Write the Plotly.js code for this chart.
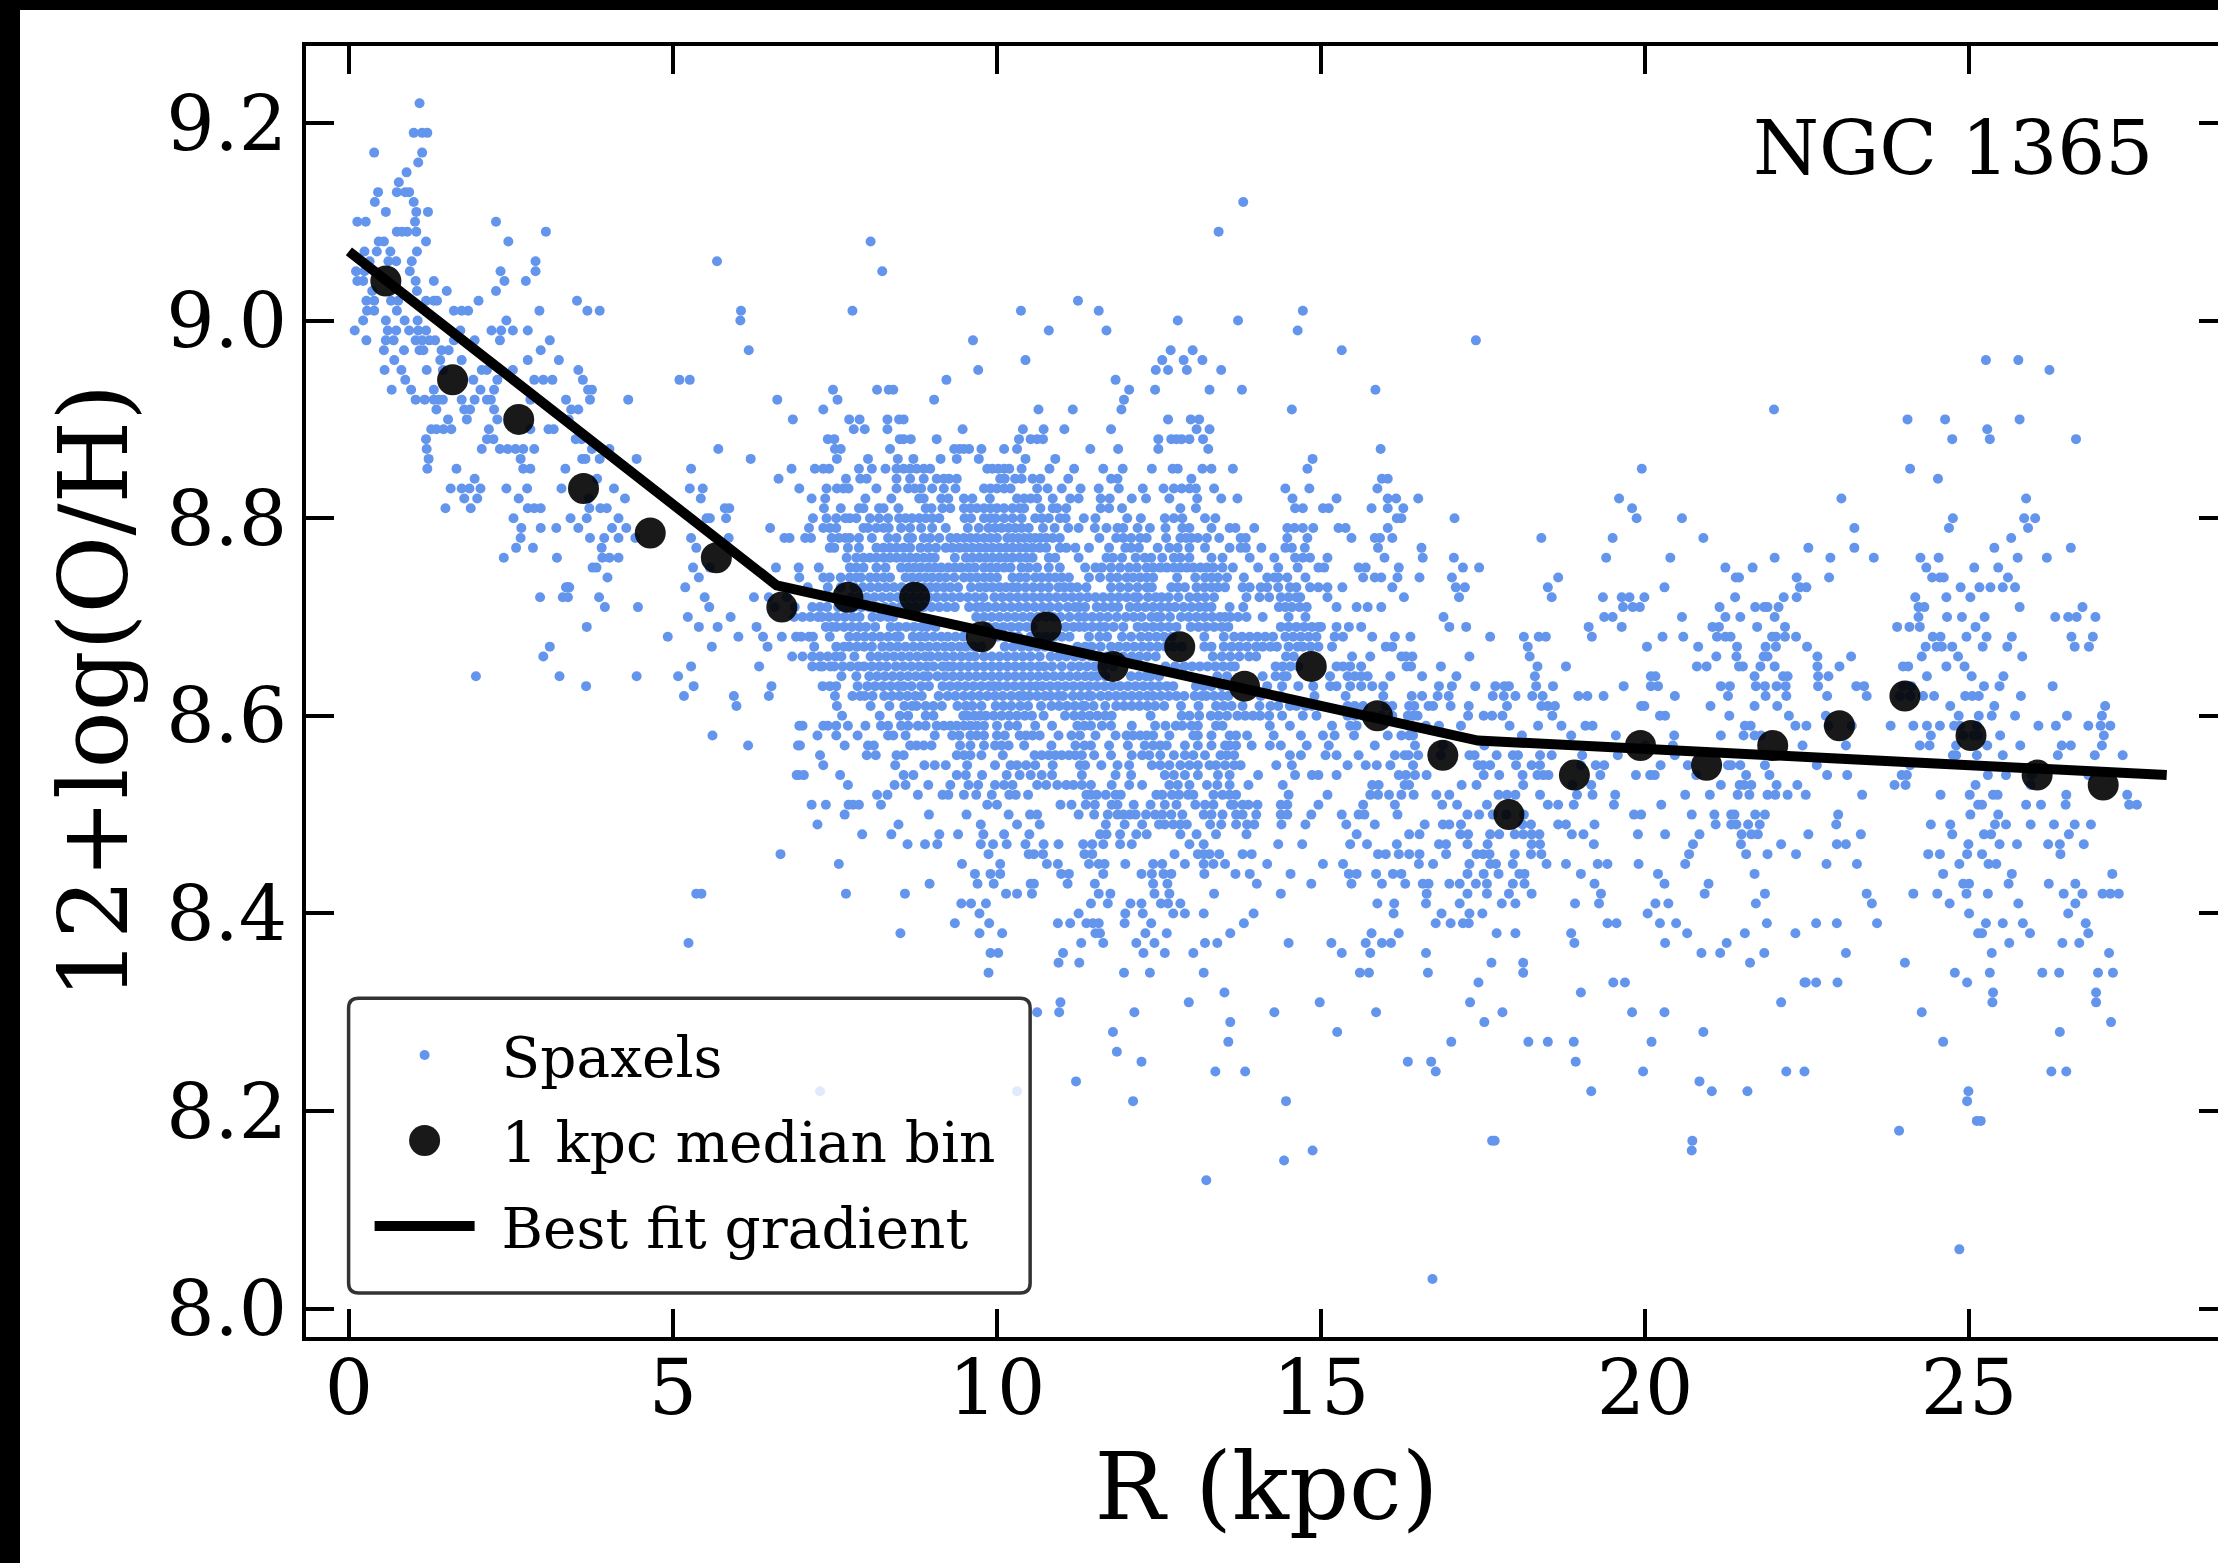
<!DOCTYPE html>
<html><head><meta charset="utf-8">
<script src="https://cdn.plot.ly/plotly-3.0.1.min.js"></script>
<style>
html,body{margin:0;padding:0;background:#fff;overflow:hidden;width:2218px;height:1563px}
#plot{position:absolute;left:0;top:0;width:2340px;height:1563px}
#bt{position:absolute;left:0;top:0;width:2218px;height:10px;background:#000}
#bl{position:absolute;left:0;top:0;width:20px;height:1563px;background:#000}
</style></head><body>
<div id="plot"></div><div id="bt"></div><div id="bl"></div>
<script>
// Each row: first number is 12+log(O/H), the rest are R (kpc) of the spaxels on that row.
const spaxelRows = [
[9.22,1.09],
[9.19,1.0,1.13,1.21],
[9.17,.39,1.13],
[9.16,1.07],
[9.15,.89],
[9.14,.77],
[9.13,.45,.74,.87,.93],
[9.12,.4,1.0,13.8],
[9.11,.57,1.04,1.22],
[9.10,.13,.26,1.02,2.27],
[9.09,.74,.82,.9,1.04,3.04,13.42],
[9.08,.46,.54,1.19,2.46,8.05],
[9.07,.24,.43,.64,1.05],
[9.06,.32,.61,.73,.97,2.88,5.68],
[9.05,.11,.24,.94,2.34,2.88,8.23],
[9.04,.13,.22,1.03,1.31,2.4,2.73],
[9.03,.36,1.05,1.51,2.27],
[9.02,.27,.39,.65,.76,1.19,1.31,1.36,2.0,3.52,11.25],
[9.01,.28,.39,.74,1.62,1.74,1.84,2.94,3.68,3.87,6.05,7.77,10.37,11.57,14.72],
[9.00,.22,.57,.86,1.06,2.43,6.04,12.79,13.72],
[8.99,.09,.6,.73,.93,1.07,1.19,1.72,2.2,2.35,2.53,2.76,10.8,11.69,14.64],
[8.98,.27,.57,.69,1.03,1.13,1.24,1.33,1.62,1.94,2.33,3.1,9.63,17.39],
[8.97,.54,.85,1.09,1.15,1.43,1.54,2.96,6.17,12.68,13.02,15.32],
[8.96,.7,1.41,1.74,2.76,3.24,10.44,12.55,12.88,13.17,25.26,25.76],
[8.95,.55,.81,1.2,1.45,2.05,2.13,2.53,3.54,9.71,12.45,12.64,12.93,13.46,26.24],
[8.94,.87,1.92,2.29,2.86,3.0,3.14,3.61,5.1,5.26,9.22,11.83],
[8.93,.66,.96,1.31,2.03,2.24,3.69,3.75,7.47,8.15,8.33,8.4,12.04,12.44,13.28,13.78,15.84],
[8.92,1.03,1.17,1.31,1.39,1.45,1.74,1.94,2.13,2.19,2.8,3.35,3.72,4.31,6.61,7.54,9.03,11.96],
[8.91,1.35,1.78,1.87,2.24,3.43,3.54,7.32,10.64,11.17,11.92,14.55,21.99],
[8.90,1.53,1.82,2.29,3.39,6.85,7.72,7.88,8.31,8.49,8.56,12.64,12.99,13.12,24.05,24.63,25.78],
[8.89,1.27,1.35,1.46,1.58,2.16,2.8,3.08,3.16,7.79,7.96,8.31,9.47,10.4,10.72,11.04,11.76,13.08,13.28,25.28],
[8.88,1.19,2.13,2.23,3.5,3.59,7.39,7.49,8.5,8.56,8.67,9.07,10.34,10.52,10.62,10.71,12.49,12.69,12.77,12.85,12.97,13.18,24.74,25.32,26.65],
[8.87,1.2,2.05,2.33,2.45,2.57,2.69,2.86,3.75,4.02,5.7,7.5,7.59,8.35,9.34,9.42,9.49,9.57,9.76,10.11,10.31,11.44,11.87,12.49,13.26,15.92],
[8.86,1.23,2.65,3.6,3.65,3.87,4.44,6.2,7.53,8.01,8.47,8.71,9.13,9.38,9.72,10.44,10.9,14.87],
[8.85,1.21,1.66,2.69,2.8,3.34,5.28,6.83,7.19,7.32,7.41,7.87,8.07,8.28,8.45,8.56,8.66,8.76,8.87,8.97,9.85,9.93,10.02,10.11,10.19,10.38,10.81,11.19,11.64,11.94,12.39,12.71,12.79,13.17,13.31,13.64,14.79,19.95,24.09],
[8.84,1.94,3.83,6.63,7.67,7.89,7.99,8.45,8.66,8.87,9.07,9.18,9.26,9.38,10.05,10.12,10.28,10.38,10.55,10.67,11.1,11.76,11.86,13.0,15.94,16.03,24.52],
[8.83,1.57,1.74,1.86,2.03,2.43,2.75,3.28,4.09,5.26,5.46,6.95,7.37,7.53,7.63,7.71,8.14,8.45,8.63,8.73,8.83,9.0,9.18,9.36,9.8,9.9,10.0,10.11,10.21,10.62,10.78,11.0,11.29,11.57,11.88,12.25,12.57,12.73,12.85,12.97,13.07,13.35,14.45,14.82,15.87],
[8.82,1.78,1.98,2.62,3.7,4.26,5.43,7.14,7.35,7.97,8.37,8.8,8.87,9.14,9.25,9.49,9.62,9.89,10.31,10.42,10.52,10.62,10.86,11.13,11.26,11.6,11.74,12.08,12.3,12.66,13.09,13.46,13.71,14.56,15.24,16.03,16.16,16.5,19.6,23.03,25.88],
[8.81,1.49,1.88,2.76,2.86,2.96,3.71,3.88,3.98,5.8,5.87,7.33,7.59,7.87,7.94,8.18,8.25,8.48,8.9,8.99,9.16,9.28,9.49,9.59,9.69,9.8,9.9,10.0,10.11,10.24,10.35,10.42,10.67,10.86,10.93,11.07,11.6,11.73,11.93,12.83,13.07,14.6,14.72,15.03,15.12,15.78,16.03,16.27,19.8],
[8.80,2.54,3.42,3.67,4.16,5.52,5.57,5.82,7.16,7.37,7.52,7.66,7.73,7.83,8.04,8.18,8.32,8.49,8.59,8.69,8.8,8.9,9.0,9.11,9.5,9.6,9.8,9.9,9.98,10.11,10.24,10.38,10.59,10.69,10.8,10.97,11.06,11.34,11.52,12.01,12.22,12.59,12.73,12.86,13.21,13.37,16.17,16.24,17.06,19.87,20.57,24.75,25.85,26.02],
[8.79,2.66,2.96,3.2,3.54,4.06,4.28,6.5,7.1,7.32,7.42,7.52,7.94,8.01,8.14,8.25,8.33,8.52,8.66,8.83,9.0,9.21,9.55,9.72,9.87,9.97,10.07,10.18,10.28,10.38,10.49,10.71,10.89,11.1,11.26,11.51,11.69,11.86,11.95,12.17,12.36,12.6,12.86,12.97,13.31,13.59,13.68,13.97,14.48,14.59,14.72,14.88,15.27,15.38,16.03,23.23,24.69,25.91],
[8.78,2.65,3.72,3.94,4.16,4.42,5.28,5.86,6.72,6.8,7.04,7.13,7.45,7.56,7.66,7.73,7.87,8.07,8.32,8.45,8.63,8.69,8.87,8.97,9.11,9.28,9.38,9.49,9.59,9.69,9.8,9.9,10.0,10.16,10.24,10.33,10.42,10.51,10.59,10.67,10.76,10.86,10.97,11.58,11.84,11.95,12.07,12.21,12.31,12.61,12.83,12.92,13.0,13.1,13.24,13.43,13.76,13.84,14.48,14.79,15.47,15.83,15.91,16.1,18.4,19.5,20.9,25.65],
[8.77,2.58,2.84,3.9,5.36,7.42,7.49,7.7,7.87,8.14,8.25,8.35,8.45,8.56,8.66,8.82,8.94,9.06,9.21,9.31,9.42,9.52,9.62,9.73,9.83,9.93,10.04,10.14,10.24,10.35,10.45,10.55,10.66,10.76,10.97,11.07,11.21,11.42,11.73,11.98,12.07,12.19,12.48,12.66,12.79,12.97,13.21,13.59,13.76,13.84,14.08,14.45,14.55,14.75,15.88,16.55,22.52,23.23,25.39,26.57],
[8.76,2.39,3.21,3.91,4.02,4.16,7.68,7.83,7.94,8.04,8.14,8.25,8.35,8.45,8.56,8.66,8.76,8.87,8.97,9.04,9.35,9.52,9.62,9.73,9.83,9.93,10.04,10.14,10.24,10.35,10.45,10.55,10.8,10.9,11.26,11.69,11.79,11.93,12.14,12.28,12.38,12.55,12.73,12.83,12.97,13.31,13.48,13.9,14.28,14.6,14.72,14.83,15.1,15.98,16.57,17.05,19.4,20.39,22.0,22.86,23.53,24.25,24.53,25.75,26.2],
[8.75,3.76,3.82,5.31,5.57,6.59,6.94,7.25,7.73,7.83,7.94,8.14,8.28,8.52,8.63,8.73,8.83,8.94,9.04,9.14,9.25,9.35,9.45,9.56,9.66,9.8,9.9,10.0,10.11,10.21,10.38,10.49,10.62,10.8,10.97,11.36,11.52,11.62,11.76,11.9,12.04,12.16,12.31,12.41,12.52,12.62,12.73,12.83,12.93,13.03,13.14,13.24,13.34,13.48,13.64,14.03,14.34,14.64,14.96,15.05,15.58,15.69,16.2,17.19,17.44,21.24,21.66,24.34,25.08,25.45],
[8.74,3.99,5.4,6.95,7.32,7.42,7.59,7.73,7.83,7.9,8.04,8.14,8.25,8.35,8.59,8.69,8.8,8.9,9.0,9.11,9.21,9.34,9.49,9.59,9.69,9.8,9.9,10.0,10.24,10.35,10.45,10.59,10.69,10.8,10.9,11.0,11.11,11.42,11.59,11.75,11.86,12.0,12.1,12.21,12.31,12.41,12.78,13.06,13.21,13.31,13.41,13.55,13.81,14.17,14.28,14.34,14.48,14.76,15.65,15.83,15.93,16.18,16.52,17.02,18.66,21.4,21.45,22.34,22.84,24.43,24.55,24.61,25.6],
[8.73,3.35,3.38,3.4,5.19,7.08,7.39,7.59,7.8,7.93,8.05,8.17,8.29,8.41,8.53,8.66,8.76,8.87,8.97,9.07,9.18,9.28,9.4,9.6,9.73,9.83,9.93,10.04,10.14,10.24,10.32,10.44,10.56,10.68,10.8,10.95,11.04,11.14,11.24,11.38,11.76,11.9,12.03,12.17,12.31,12.39,12.69,12.79,12.9,13.08,13.2,13.31,13.41,13.52,13.79,13.9,14.07,14.17,14.34,14.52,14.62,14.83,14.96,15.1,15.33,16.1,17.08,17.22,18.5,20.3,22.39,22.49,24.87,25.16,25.33,25.52,25.71],
[8.72,2.95,3.3,3.38,3.86,5.49,6.25,6.48,6.76,7.75,7.87,7.99,8.11,8.23,8.35,8.47,8.59,8.71,8.83,8.95,9.07,9.19,9.31,9.43,9.55,9.67,9.79,9.96,10.08,10.2,10.32,10.44,10.56,10.68,10.8,10.92,11.04,11.16,11.28,11.4,11.52,11.64,11.76,11.88,12.0,12.12,12.18,12.33,12.45,12.54,12.65,12.8,12.97,13.09,13.21,13.35,13.85,14.05,14.2,14.38,14.5,14.62,14.68,15.1,16.28,17.13,18.56,19.35,19.64,19.76,19.99,21.39,22.14,22.34,24.17,24.65,25.02],
[8.71,3.95,4.46,5.56,6.57,6.88,7.15,7.27,7.38,7.55,7.67,7.79,7.91,8.03,8.15,8.27,8.39,8.51,8.63,8.75,8.87,8.99,9.11,9.23,9.35,9.57,9.69,9.77,9.86,9.98,10.1,10.22,10.34,10.46,10.58,10.7,10.82,10.95,11.09,11.2,11.27,11.36,11.54,11.65,11.77,11.87,12.05,12.17,12.29,12.41,12.53,12.65,12.75,12.88,13.0,13.12,13.22,13.31,13.59,13.8,14.35,14.45,14.55,14.67,14.78,15.24,15.55,15.72,15.93,19.66,19.81,19.92,21.15,21.7,21.84,21.89,22.06,24.22,24.31,25.78,26.75],
[8.70,5.23,5.89,6.87,7.0,7.12,7.24,7.3,7.41,7.53,7.65,7.77,7.88,8.08,8.2,8.32,8.4,9.68,9.8,9.92,10.04,10.16,10.28,10.4,10.52,10.63,10.75,10.87,10.98,11.12,11.26,11.35,11.47,11.59,11.71,11.85,11.99,12.11,12.23,12.38,12.47,12.53,12.67,12.84,12.96,13.08,13.2,13.32,13.44,13.52,13.6,13.72,13.85,14.1,14.5,14.76,16.89,19.37,19.5,20.57,21.24,21.47,22.0,24.22,24.66,24.89,25.24,26.33,26.53,26.66,26.95],
[8.69,3.67,5.4,5.69,6.29,7.36,7.45,7.52,7.64,7.76,7.88,7.98,8.12,8.36,8.48,8.6,8.72,8.84,8.92,9.05,9.86,9.98,10.1,10.22,10.34,10.46,10.55,11.06,11.18,11.27,11.35,11.47,11.59,11.67,11.8,11.95,12.17,12.29,12.41,12.53,12.65,12.77,12.99,13.11,13.23,13.35,13.47,13.57,14.38,14.5,14.62,14.74,14.86,14.96,15.0,15.24,15.43,15.62,16.98,17.24,19.13,19.64,21.04,21.14,21.73,22.16,23.89,24.08,24.24,25.1],
[8.68,4.92,6.01,6.39,6.68,6.9,6.98,7.1,7.16,7.42,7.72,7.84,7.96,8.08,8.2,8.32,8.44,8.5,8.7,8.81,8.9,9.02,9.14,9.24,9.36,9.48,10.01,10.13,10.25,10.33,10.52,10.64,10.76,10.88,11.0,11.12,11.42,11.58,11.7,11.93,12.07,12.22,12.34,12.46,12.58,12.7,13.2,13.5,13.66,13.78,13.9,14.02,14.14,14.26,14.45,14.57,14.69,14.81,14.93,15.21,15.34,15.79,16.14,16.38,17.61,18.13,18.36,18.47,19.18,20.27,20.59,21.11,21.24,21.32,21.96,22.02,22.16,22.33,24.44,24.56,24.96,25.27,25.66,26.58,26.91],
[8.67,3.1,5.6,6.46,7.18,7.52,7.64,7.72,7.84,7.95,8.07,8.23,8.35,8.47,8.59,8.71,8.83,8.95,9.07,9.19,9.3,9.42,9.52,9.64,9.76,10.12,10.25,10.38,10.5,10.62,10.74,11.24,11.36,11.46,11.6,11.76,11.88,12.0,12.12,12.24,12.36,12.48,12.6,12.72,12.85,13.2,13.31,13.5,13.62,13.74,13.86,14.0,14.1,14.22,14.32,14.5,14.64,14.72,14.84,14.96,15.17,16.0,16.1,18.19,20.03,20.82,21.42,21.86,22.02,22.5,24.33,24.5,24.58,24.74,25.21,25.59,26.63,26.85],
[8.66,3.0,6.84,7.0,7.15,7.27,7.39,7.51,7.6,7.8,8.05,8.17,8.29,8.41,8.53,8.65,8.77,8.89,8.98,9.1,9.21,9.33,9.45,9.57,9.66,9.8,9.92,10.04,10.16,10.28,10.4,10.52,10.66,10.83,10.95,11.07,11.2,11.32,11.45,11.58,11.7,11.83,11.95,12.08,12.2,12.32,12.45,13.33,13.47,13.6,13.74,13.89,14.0,14.46,14.58,15.48,15.76,16.24,16.31,16.41,17.29,18.22,21.1,21.41,21.83,21.89,22.66,23.18,24.27,24.83,25.82],
[8.65,5.28,6.33,7.15,7.27,7.31,7.43,7.49,7.62,7.74,7.86,7.95,8.07,8.19,8.3,8.44,8.56,8.68,8.8,8.92,9.02,9.16,9.25,9.32,9.44,9.56,9.68,9.8,9.92,10.04,10.16,10.28,10.4,10.52,10.64,10.73,10.85,11.0,11.15,11.27,11.39,11.51,11.65,11.8,12.6,12.75,12.89,13.01,13.13,13.25,13.37,13.49,13.61,13.67,14.3,14.41,14.53,14.65,15.24,15.34,15.45,15.62,16.32,16.39,16.85,18.34,18.78,20.8,20.95,21.45,21.51,21.78,22.0,22.66,23.0,23.98,24.06,24.65,24.93],
[8.64,1.96,3.25,4.44,5.08,7.6,7.83,8.03,8.15,8.27,8.39,8.51,8.63,8.75,8.87,8.94,9.08,9.2,9.32,9.44,9.56,9.68,9.8,9.92,10.04,10.16,10.28,10.4,10.52,10.64,10.76,10.88,11.0,11.12,11.24,11.36,11.46,11.55,11.67,12.07,12.19,12.3,12.37,12.5,13.4,13.55,14.1,14.3,14.42,14.47,15.14,15.41,15.52,15.62,15.72,16.07,16.56,17.09,18.3,20.09,20.16,21.69,22.13,22.2,22.67,22.83,24.35,25.04,25.53],
[8.63,3.66,5.32,6.52,7.31,7.42,7.52,7.85,8.0,8.12,8.24,8.36,8.48,8.56,8.68,8.83,8.95,9.16,9.28,9.4,9.52,9.64,9.76,9.88,9.95,10.03,10.15,10.27,10.39,10.51,10.61,10.7,10.82,10.94,11.06,11.18,11.3,11.42,11.54,11.66,11.78,11.9,12.02,12.14,12.26,12.38,12.5,12.62,12.72,13.07,13.19,13.31,13.47,14.17,14.4,14.65,14.88,15.14,15.24,15.45,15.62,15.79,15.96,16.82,17.02,17.38,17.69,17.83,17.9,18.32,18.58,19.67,20.09,20.2,21.17,21.31,21.71,21.85,22.03,22.17,22.67,23.26,23.38,23.98,24.11,25.23,25.47,26.29],
[8.62,5.17,5.94,6.48,7.5,7.77,7.89,7.96,8.08,8.26,8.38,8.5,8.62,8.74,8.84,9.1,9.24,9.36,9.49,9.61,9.73,9.85,9.97,10.09,10.22,10.34,10.41,10.5,10.62,10.74,10.83,10.95,11.02,11.17,11.29,11.41,11.46,11.6,11.72,11.84,11.96,12.08,12.2,12.32,12.41,12.53,12.65,12.77,12.89,13.05,13.16,13.23,13.35,13.47,13.57,14.07,14.38,14.9,15.38,15.96,16.4,16.56,16.8,16.97,17.65,17.82,18.0,18.26,18.42,18.97,19.11,19.36,20.46,21.28,21.86,22.18,22.81,23.42,23.93,24.09,24.29,24.46,24.94,25.05,25.15,25.8],
[8.61,5.98,7.53,8.05,8.34,8.57,8.69,8.76,8.9,9.02,9.15,9.39,9.52,9.62,9.76,9.98,10.1,10.22,10.36,10.48,10.68,10.84,10.96,11.08,11.2,11.32,11.36,11.49,11.67,11.84,11.96,12.08,12.2,12.32,12.44,12.58,12.84,13.11,13.38,13.5,13.62,13.79,14.05,14.22,14.34,14.52,14.62,14.76,14.86,14.96,15.41,15.52,15.65,16.0,16.1,16.36,16.44,16.66,16.73,17.0,17.28,17.87,18.4,18.5,18.61,19.94,19.99,21.01,21.69,22.04,24.71,25.39,27.1],
[8.60,7.61,8.19,8.5,8.63,8.9,9.02,9.48,9.55,9.65,9.74,9.83,9.95,10.07,10.19,10.31,10.43,10.54,10.72,11.05,11.19,11.31,11.43,11.55,11.67,11.77,12.37,12.85,12.97,13.12,13.3,13.42,13.55,13.71,13.83,13.95,14.06,14.2,14.4,14.72,14.93,15.41,15.52,15.65,15.79,15.93,16.1,16.34,16.42,16.49,17.27,17.51,17.64,17.8,18.57,20.23,20.31,21.3,22.22,22.79,24.84,25.15,25.35,25.71,26.51,27.05],
[8.59,6.95,7.0,7.32,7.39,7.52,7.7,7.97,8.21,8.32,8.52,8.63,8.78,8.9,9.07,9.18,9.28,9.38,9.49,9.59,9.69,9.8,10.0,10.18,10.31,10.59,10.85,11.24,11.35,11.45,11.62,11.76,12.08,12.44,12.6,12.76,12.86,13.0,13.1,13.38,13.48,14.21,14.52,15.17,15.45,15.55,16.36,16.62,16.82,17.16,17.91,18.35,18.71,19.08,19.19,21.54,21.63,22.32,22.49,22.83,23.19,23.79,24.14,24.35,24.55,24.77,24.86,25.12,26.07,26.34,26.84,27.03,27.18],
[8.58,5.61,7.23,7.52,7.85,8.32,8.4,8.59,9.04,9.31,9.42,9.59,9.69,9.8,10.0,10.12,10.35,10.45,10.55,10.66,10.95,11.15,11.28,11.52,11.83,12.0,12.1,12.21,12.31,12.41,12.66,13.03,13.1,13.31,13.59,13.69,13.86,14.27,14.69,15.03,15.21,15.51,16.03,16.24,16.36,16.42,18.1,18.86,19.55,20.45,21.17,21.52,21.69,21.79,24.41,24.91,25.07,25.14,25.48,27.08],
[8.57,6.16,6.93,6.96,7.65,8.01,8.1,8.66,8.76,8.87,8.99,9.43,9.59,9.8,9.97,10.07,10.18,10.42,10.84,11.21,11.35,11.45,11.73,12.02,12.28,12.41,12.52,12.62,12.9,13.1,13.31,13.52,13.59,13.69,13.93,14.21,14.38,14.78,15.12,15.83,16.45,16.88,17.52,20.0,20.43,22.43,23.1,24.24,24.39,24.8,25.28,25.79,26.43,26.57,27.05],
[8.56,7.27,7.99,8.13,8.45,8.56,9.38,9.49,9.59,9.76,10.09,10.58,10.69,10.8,10.9,11.0,11.11,11.21,11.31,11.5,11.76,12.08,12.24,12.35,12.52,12.73,12.9,13.03,13.21,13.45,13.55,13.66,14.52,14.69,15.07,15.24,15.58,16.14,16.29,16.35,16.5,16.85,17.29,17.37,17.71,17.96,18.04,18.38,18.56,19.03,19.58,20.46,24.75,24.8,25.12,25.52,26.37,26.94,27.37],
[8.55,7.32,8.43,8.88,9.04,9.21,9.54,9.97,10.21,10.31,10.45,10.59,10.86,11.28,11.36,11.61,11.86,12.04,12.39,12.52,12.66,12.83,12.97,13.1,13.28,13.38,13.52,13.66,13.76,14.31,14.55,15.41,15.69,15.86,16.07,16.42,17.42,17.5,17.61,18.01,18.25,18.38,19.01,19.24,19.37,20.24,20.66,21.28,21.33,21.47,21.85,22.65,24.09],
[8.54,6.91,6.94,7.02,7.58,8.56,8.71,9.38,9.52,9.77,10.15,10.35,10.52,10.69,10.85,11.31,11.83,12.07,12.59,12.73,12.9,13.1,13.41,13.59,14.03,14.6,14.86,14.96,15.24,16.2,16.31,16.45,16.63,17.51,17.75,18.11,18.34,18.43,18.51,19.31,19.86,20.08,20.15,20.79,21.56,21.92,22.81,23.12,23.96,24.04,25.29,25.57,25.97,26.84],
[8.53,7.7,8.42,8.59,8.94,9.28,9.56,9.71,9.97,10.11,10.24,10.62,10.76,10.93,11.07,11.18,11.31,11.45,11.77,12.04,12.24,12.66,12.79,12.97,13.24,13.4,13.59,13.88,14.41,15.79,15.89,16.29,16.36,17.17,17.4,18.12,18.88,19.17,21.17,21.46,21.53,21.64,22.03,22.35,23.85,24.02,25.1,25.95],
[8.52,8.15,8.31,8.78,9.16,9.25,9.49,9.68,9.92,10.19,10.29,10.48,11.38,11.45,11.54,11.68,11.83,11.91,12.46,12.55,12.7,12.81,12.95,13.03,13.34,13.48,13.59,13.69,14.5,15.1,15.76,15.88,16.05,16.24,16.43,16.78,16.98,17.74,17.87,18.0,18.38,18.95,19.19,19.54,20.62,21.0,21.43,21.61,21.89,22.01,22.2,22.48,23.35,24.56,25.01,25.37,25.44,26.5,27.44],
[8.51,7.14,7.36,7.71,7.78,7.87,8.21,9.85,10.0,10.98,11.15,11.37,11.51,11.77,11.86,12.11,12.37,12.59,12.77,13.06,13.21,13.34,13.61,13.65,13.79,13.88,14.02,14.38,14.48,14.96,15.65,16.14,16.87,17.1,17.56,18.5,18.66,18.9,19.52,20.25,25.14,25.2,25.88,26.11,26.49,27.47,27.59],
[8.50,7.65,8.95,9.53,10.18,10.51,10.62,11.26,11.5,11.71,11.86,11.95,12.05,12.14,12.3,12.44,12.55,12.69,12.86,13.19,13.31,13.48,13.69,13.79,14.0,14.38,14.48,14.85,15.32,15.58,15.67,16.18,17.26,17.44,17.65,17.86,18.13,19.83,19.94,20.72,21.07,21.33,21.38,21.7,21.85,22.98,25.02,25.45],
[8.49,7.23,8.48,9.75,10.31,10.66,11.68,11.97,12.24,12.5,12.59,12.72,12.83,12.93,13.29,13.46,13.69,13.86,13.97,14.39,14.76,15.39,15.83,16.6,16.88,16.98,17.16,18.11,18.24,18.66,18.78,19.22,21.09,21.33,21.41,21.59,21.77,22.95,24.41,24.71,25.4,25.57,25.95,26.31,26.63,26.88],
[8.48,7.92,8.37,9.11,9.4,9.79,10.11,10.5,11.59,11.69,11.9,12.15,12.31,12.83,13.08,13.38,13.85,15.55,16.36,16.52,17.15,17.27,17.61,17.75,17.99,18.12,18.25,18.37,18.87,19.05,19.89,20.31,20.84,21.49,21.64,21.74,22.52,23.33,24.74,25.23,25.34,26.54],
[8.47,8.62,8.89,9.08,9.75,9.94,10.15,10.44,10.72,10.95,11.33,11.47,11.64,11.9,12.08,12.97,13.19,14.34,14.71,15.45,15.71,16.17,16.82,16.93,17.26,17.57,18.25,18.38,19.21,20.74,21.48,22.1,22.96,23.1,24.99,25.47,25.74,26.22,26.4,26.77],
[8.46,6.66,9.87,10.49,10.57,10.71,11.35,11.47,12.74,13.1,13.19,13.28,13.43,13.79,13.93,15.88,16.0,16.2,16.36,16.52,16.93,17.4,17.5,17.6,17.99,18.24,18.4,20.68,21.56,21.89,22.33,24.37,24.55,24.97,25.2,26.41],
[8.45,7.56,9.46,10.05,10.77,10.94,11.42,11.57,11.66,11.98,12.41,12.55,12.9,13.19,13.34,13.52,14.17,15.03,15.34,16.51,16.73,17.29,17.61,17.7,17.96,18.48,18.78,19.27,19.42,19.9,20.62,22.8,23.27,24.85,25.3,25.42],
[8.44,9.66,9.9,10.05,10.99,11.11,11.64,12.23,12.39,12.57,12.69,13.2,13.68,13.9,14.53,15.43,15.55,15.85,16.11,16.24,17.26,17.51,17.74,18.06,18.14,19.01,20.2,21.69,24.6,25.66,27.21],
[8.43,8.96,9.7,9.95,10.52,10.57,11.09,11.51,12.41,12.63,14.01,14.85,15.47,15.94,16.3,16.57,16.66,16.98,17.14,17.39,17.56,17.96,18.14,19.22,20.3,20.98,24.91,25.0,25.61,26.23,26.64],
[8.42,5.36,5.44,7.67,8.58,10.14,10.31,10.54,11.57,11.75,12.43,12.66,13.35,14.38,16.63,17.26,17.56,17.9,18.25,19.32,20.92,21.85,23.42,24.14,24.51,24.96,25.29,26.46,26.75,27.06,27.18,27.31],
[8.41,9.45,9.6,9.83,11.45,11.71,12.06,12.23,12.53,12.64,12.83,15.87,16.13,16.62,17.14,17.79,18.0,18.92,19.29,20.16,20.36,21.71,23.5,24.7,25.76,26.64],
[8.40,9.73,11.26,11.98,12.25,12.72,12.9,13.19,13.96,16.12,16.86,17.29,17.49,20.04,25.0,26.53],
[8.39,9.35,9.88,10.94,11.13,11.38,11.48,11.57,11.97,12.38,13.81,16.77,17.0,17.19,17.28,19.42,19.56,20.23,20.48,21.88,22.64,22.96,23.58,25.26,25.52,25.83,26.8],
[8.38,8.51,9.73,10.08,11.52,11.59,12.29,12.62,13.6,15.78,16.2,17.71,18.0,18.86,20.65,21.54,22.32,25.14,25.2,25.94,26.84],
[8.37,5.24,11.3,11.64,12.15,12.43,13.21,13.4,14.5,15.16,15.69,15.94,16.08,18.91,20.31,21.26,25.62,26.44,26.7],
[8.36,9.9,10.02,11.02,12.26,12.59,13.03,15.32,15.76,16.62,20.87,21.16,21.84,23.1,25.35,27.16],
[8.35,10.95,11.27,17.63,18.12,21.62,24.01],
[8.34,9.87,11.96,12.36,13.19,15.6,15.74,16.65,18.12,24.78,25.32,26.13,26.39,26.99,27.22],
[8.33,17.43,19.51,19.69,22.46,22.64,22.48,22.97,24.97],
[8.32,13.51,19.01,25.37,26.96],
[8.31,10.98,12.96,14.98,17.3,22.1,25.36,26.96],
[8.30,10.62,10.96,12.12,14.28,15.85,17.8,19.8,20.3,24.27],
[8.29,13.6,17.52,27.19],
[8.28,11.79,15.25,20.9,26.4],
[8.27,13.57,17.01,18.2,18.5,18.9,20.1,24.6],
[8.26,11.85],
[8.25,12.23,16.34,16.7,18.93],
[8.24,13.37,13.83,16.77,19.97,22.18,22.46,26.27,26.5],
[8.23,11.22,20.84],
[8.22,7.27,10.31,19.17,21.03,21.58,24.99],
[8.21,12.1,14.46,24.97],
[8.19,25.12,25.18],
[8.18,23.92],
[8.17,17.64,17.68,20.73],
[8.16,14.87,20.72],
[8.15,14.43],
[8.13,13.23],
[8.06,24.85],
[8.03,16.72]
];
const medianR = [0.57,1.6,2.62,3.62,4.65,5.67,6.68,7.7,8.73,9.76,10.76,11.79,12.82,13.82,14.85,15.87,16.88,17.9,18.91,19.93,20.95,21.97,23.0,24.01,25.03,26.05,27.07];
const medianOH = [9.04,8.94,8.90,8.83,8.785,8.76,8.71,8.72,8.72,8.68,8.69,8.65,8.67,8.63,8.65,8.60,8.56,8.50,8.54,8.57,8.55,8.57,8.59,8.62,8.58,8.54,8.53];
const fitR = [0,6.6,17.42,28.05];
const fitOH = [9.07,8.732,8.575,8.54];
const xTicks = [0,5,10,15,20,25];
const yTicks = [8.0,8.2,8.4,8.6,8.8,9.0,9.2];
const traceNames = ['Spaxels','1 kpc median bin','Best fit gradient'];

const spaxelX = [], spaxelY = [];
spaxelRows.forEach(r => { for (let i = 1; i < r.length; i++) { spaxelX.push(r[i]); spaxelY.push(r[0]); } });

const W = 2340, H = 1563, L = 306.4, R = 2227.3, T = 45.5, B = 1337.5;
const fx = p => (p - L) / (R - L), fy = p => (B - p) / (B - T);
const bx0 = fx(349), bx1 = fx(1030.5), by0 = fy(998.5), by1 = fy(1293.5), rx = 10 / (R - L), ry = 10 / (B - T);
const boxPath = `M ${bx0 + rx} ${by0} L ${bx1 - rx} ${by0} Q ${bx1} ${by0} ${bx1} ${by0 - ry} L ${bx1} ${by1 + ry} Q ${bx1} ${by1} ${bx1 - rx} ${by1} L ${bx0 + rx} ${by1} Q ${bx0} ${by1} ${bx0} ${by1 + ry} L ${bx0} ${by0 - ry} Q ${bx0} ${by0} ${bx0 + rx} ${by0} Z`;

const font = 'DejaVu Serif, serif';
const axis = {
  showgrid: false, zeroline: false, showline: true, linecolor: '#000', linewidth: 3.5,
  mirror: 'allticks', ticks: 'inside', ticklen: 28, tickwidth: 3.5, tickcolor: '#000',
  tickfont: {family: font, size: 76, color: '#000'}, automargin: false
};
const traces = [
  {type:'scatter', mode:'markers', x:spaxelX, y:spaxelY, name:traceNames[0], legendgroup:'a',
   marker:{size:10, color:'#6495ED', line:{width:0}}},
  {type:'scatter', mode:'markers', x:medianR, y:medianOH, name:traceNames[1], legendgroup:'b',
   marker:{size:31, color:'rgba(0,0,0,0.9)', line:{width:0}}},
  {type:'scatter', mode:'lines', x:fitR, y:fitOH, name:traceNames[2], legendgroup:'c',
   line:{color:'#000', width:10}}
];
const layout = {
  width: W, height: H, paper_bgcolor:'#fff', plot_bgcolor:'#fff',
  margin:{l:L, r:W-R, t:T, b:H-B, pad:0},
  xaxis:Object.assign({}, axis, {range:[-0.662,28.98], tickmode:'array', tickvals:xTicks, ticktext:xTicks.map(String), ticklabelstandoff:-18,
    title:{text:'R (kpc)', font:{family:font, size:94, color:'#000'}, standoff:15}}),
  yaxis:Object.assign({}, axis, {range:[7.9713,9.2779], tickmode:'array', tickvals:yTicks, ticktext:yTicks.map(v=>v.toFixed(1)),
    title:{text:'12+log(O/H)', font:{family:font, size:95, color:'#000'}, standoff:8}}),
  showlegend:true,
  legend:{x:fx(370), y:fy(1012), xanchor:'left', yanchor:'top', bgcolor:'rgba(0,0,0,0)', borderwidth:0,
    font:{family:font, size:56.5, color:'#000'}, itemwidth:100, tracegroupgap:9, traceorder:'grouped', itemclick:false, itemdoubleclick:false},
  shapes:[{type:'path', xref:'paper', yref:'paper', layer:'above', path:boxPath,
    fillcolor:'rgba(255,255,255,0.8)', line:{color:'rgba(0,0,0,0.8)', width:3.5}}],
  annotations:[{xref:'x', yref:'y', x:27.87, y:9.175, xanchor:'right', yanchor:'middle', showarrow:false,
    text:'NGC 1365', font:{family:font, size:75.5, color:'#000'}}]
};
Plotly.newPlot('plot', traces, layout, {displayModeBar:false}).then(gd => {
  // The library caps legend glyph sizes; bring them to the sizes drawn in the reference.
  const items = gd.querySelectorAll('.legend .traces');
  const medianGlyph = items[1] && items[1].querySelector('.legendpoints path.scatterpts');
  if (medianGlyph) medianGlyph.setAttribute('d', 'M15.5,0A15.5,15.5 0 1,1 0,-15.5A15.5,15.5 0 0,1 15.5,0Z');
  const lineGlyph = items[2] && items[2].querySelector('.legendlines path');
  if (lineGlyph) lineGlyph.style.strokeWidth = '10px';
  gd.querySelectorAll('.legend .legendtext').forEach(t => t.setAttribute('x', +t.getAttribute('x') + 22));
  const box = gd.querySelector('.legend .scrollbox');
  if (box) box.removeAttribute('clip-path');
});
</script>
</body></html>
